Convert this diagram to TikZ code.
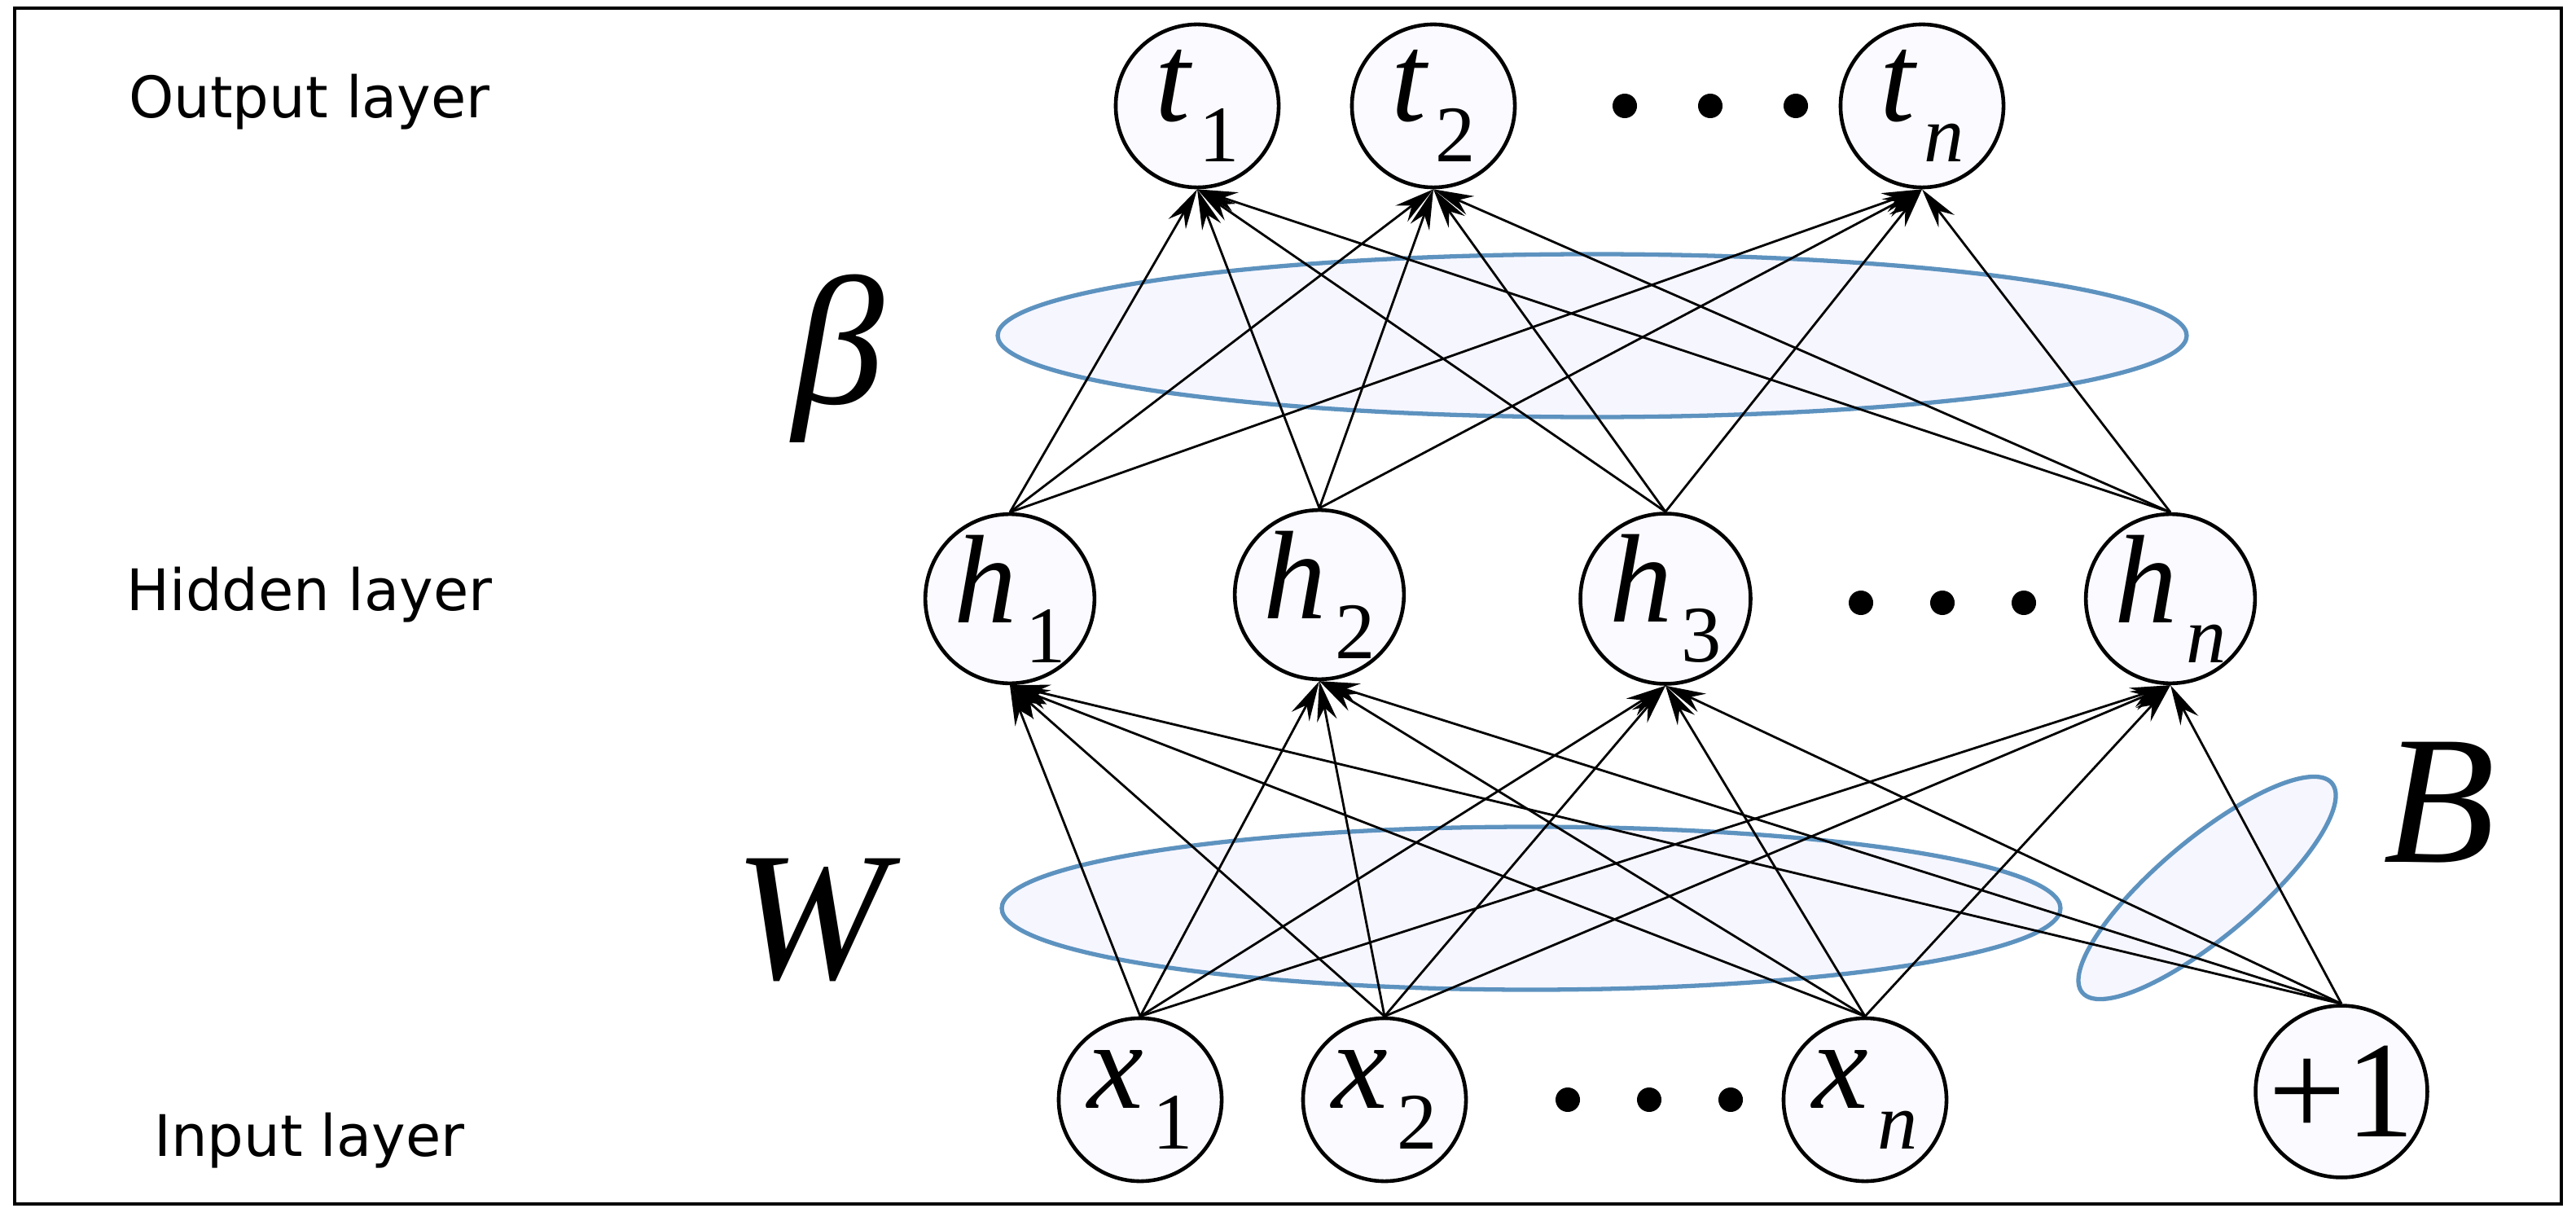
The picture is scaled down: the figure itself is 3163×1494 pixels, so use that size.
\documentclass[tikz,border=0pt]{standalone}
\usepackage{fontspec}
\setmainfont{Liberation Serif}
\newfontfamily\lab{DejaVu Sans}
\usetikzlibrary{arrows.meta}
\newcommand{\nv}[2]{{\fontsize{44}{44}\selectfont\itshape #1}\kern3pt\raisebox{-14pt}{\fontsize{28}{28}\selectfont #2}}
\begin{document}
\begin{tikzpicture}[x=0.01cm,y=-0.01cm,
  neu/.style={circle,draw,line width=1.3pt,minimum size=2cm,inner sep=0pt,fill=blue!2},
  con/.style={line width=0.8pt,-{Stealth[length=14pt,width=7pt]}},
  lay/.style={font=\lab\fontsize{20}{24}\selectfont},
  big/.style={font=\fontsize{64}{64}\selectfont\itshape},
  grp/.style={draw=blue!45!cyan!60!black!70,line width=1.5pt,fill=blue!4,opacity=0.9},
  dot/.style={circle,fill=black,inner sep=0pt,minimum size=0.3cm}]
\useasboundingbox (0,0) rectangle (3163,1494);
\draw[line width=1.2pt] (18,10) rectangle (3145,1478);
% group ellipses
\draw[grp] (1955,412) ellipse [x radius=730,y radius=100];
\draw[grp] (1880,1115) ellipse [x radius=650,y radius=100];
\draw[grp,rotate around={40:(2710,1090)}] (2710,1090) ellipse [x radius=200,y radius=60];
% nodes
\node[neu] (t1) at (1470,130) {\nv{t}{1}};
\node[neu] (t2) at (1760,130) {\nv{t}{2}};
\node[neu] (tn) at (2360,130) {\nv{t}{\itshape n}};
\node[neu] (h1) at (1240,735) {\nv{h}{1}};
\node[neu] (h2) at (1620,730) {\nv{h}{2}};
\node[neu] (h3) at (2045,735) {\nv{h}{3}};
\node[neu] (hn) at (2665,735) {\nv{h}{\itshape n}};
\node[neu] (x1) at (1400,1350) {\nv{x}{1}};
\node[neu] (x2) at (1700,1350) {\nv{x}{2}};
\node[neu] (xn) at (2290,1350) {\nv{x}{\itshape n}};
\node[neu] (b) at (2875,1340) {\fontsize{48}{48}\selectfont +1};
% dots
\foreach \i/\x/\y in {a/1995/130,b/2100/130,c/2205/130,d/2285/740,e/2385/740,f/2485/740,g/1925/1350,h/2025/1350,i/2125/1350}
  \node[dot] (d\i) at (\x,\y) {};
% labels
\node[lay] (lo) at (380,125) {Output layer};
\node[lay] (lh) at (380,730) {Hidden layer};
\node[lay] (li) at (380,1400) {Input layer};
\node[big] (beta) at (1030,440) {β};
\node[big] (w) at (995,1130) {W};
\node[big] (bb) at (2995,985) {B};
% connections
\foreach \h in {h1,h2,h3,hn}
  \foreach \t in {t1,t2,tn}
    \draw[con] (\h.north) -- (\t.south);
\foreach \x in {x1,x2,xn,b}
  \foreach \h in {h1,h2,h3,hn}
    \draw[con] (\x.north) -- (\h.south);
\end{tikzpicture}
\end{document}
